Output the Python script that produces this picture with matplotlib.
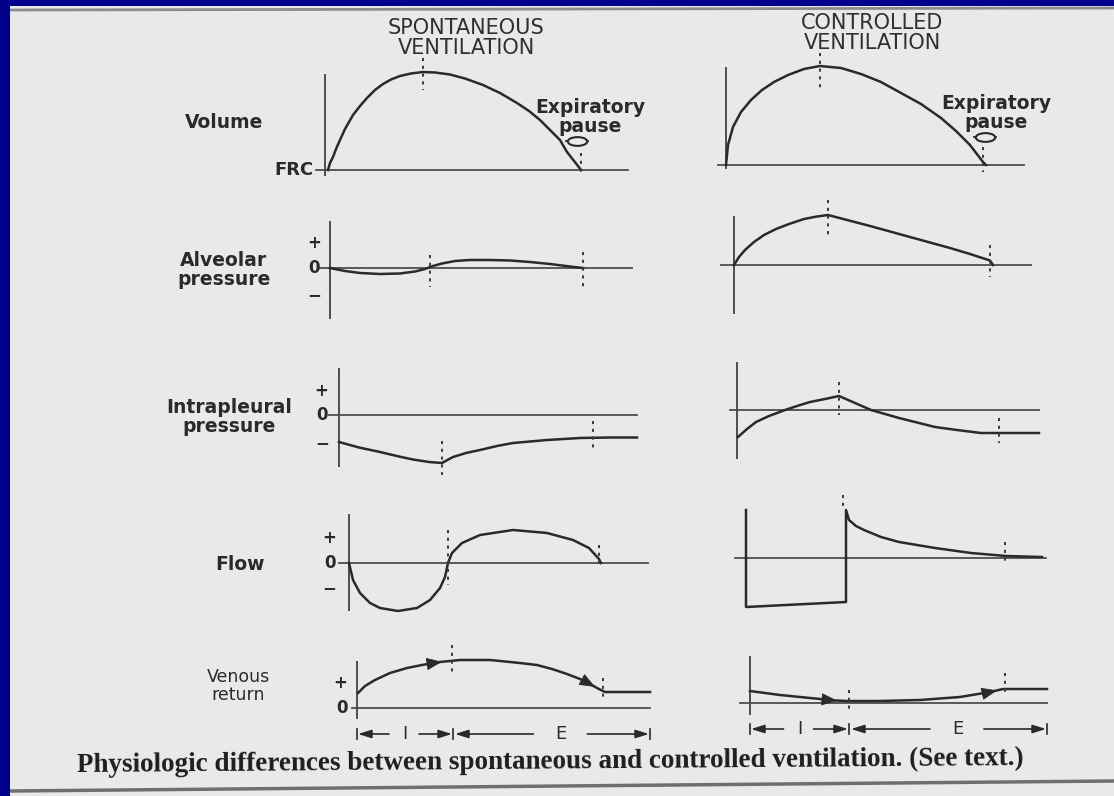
import numpy as np
import matplotlib.pyplot as plt
from matplotlib.path import Path
from matplotlib.transforms import Affine2D

W, H = 1114, 796
INK = '#2a2a2a'
RULE = '#4d4d4d'
PAGE = '#e9e9e9'

# ---- traces: time (arbitrary units from start of inspiration) and value (arbitrary units, 0 = baseline)
# spontaneous ventilation
sv_vol_t = [0.3, 0.5, 0.8, 1.1, 1.5, 2.0, 2.8, 3.5, 4.2, 5.0, 5.8, 6.6, 7.5, 8.6, 9.8, 11.0, 12.5,
            14.0, 15.8, 17.5, 19.2, 20.4, 21.5, 22.5, 23.5, 24.2, 25.3, 25.6]
sv_vol_v = [0, 0.7, 1.3, 2.1, 3.0, 4.1, 5.5, 6.4, 7.2, 8.0, 8.6, 9.05, 9.4, 9.65, 9.8, 9.75, 9.55,
            9.15, 8.5, 7.7, 6.7, 5.9, 5.0, 4.0, 3.0, 1.8, 0.4, 0]

sv_alv_t = [0, 1.5, 3.0, 5.0, 7.0, 8.5, 9.5, 10.3, 11.2, 12.5, 14.0, 16.0, 18.0, 20.0, 22.0, 24.0, 25.3]
sv_alv_v = [0, -0.3, -0.5, -0.6, -0.55, -0.35, -0.1, 0.2, 0.45, 0.7, 0.8, 0.8, 0.75, 0.6, 0.4, 0.15, 0]

sv_ipl_t = [0, 2.0, 4.1, 6.0, 7.4, 9.0, 10.3, 11.4, 12.7, 14.1, 15.8, 17.4, 20.8, 24.1, 27.0, 29.8]
sv_ipl_v = [-2.7, -3.25, -3.7, -4.15, -4.45, -4.7, -4.8, -4.2, -3.8, -3.5, -3.1, -2.8, -2.5, -2.3, -2.25, -2.25]

sv_flow_t = [0, 0.4, 1.1, 2.1, 3.1, 4.9, 6.8, 8.1, 9.1, 9.6, 9.9, 10.3, 11.3, 13.1, 16.4, 19.8, 22.4, 24.0, 25.0, 25.2]
sv_flow_v = [0, -1.7, -3.0, -4.0, -4.5, -4.8, -4.5, -3.7, -2.5, -1.4, 0, 1.0, 2.0, 2.8, 3.3, 3.0, 2.3, 1.5, 0.4, 0]

sv_ven_t = [0.1, 0.8, 1.8, 3.3, 5.0, 6.5, 8.3, 10.3, 13.3, 16.3, 18.0, 19.5, 21.0, 22.3, 23.3, 24.0, 24.8, 29.3]
sv_ven_v = [1.5, 2.2, 2.8, 3.5, 4.0, 4.3, 4.6, 4.8, 4.8, 4.5, 4.3, 3.9, 3.4, 2.9, 2.4, 2.0, 1.6, 1.6]

# controlled ventilation
cv_vol_t = [0, 0.2, 0.7, 1.5, 2.5, 3.6, 4.8, 6.2, 7.8, 9.4, 11.5, 13.5, 15.5, 17.5, 19.5, 21.5, 23.0, 24.4, 25.7, 26.0]
cv_vol_v = [0, 2.0, 3.8, 5.3, 6.5, 7.5, 8.3, 9.0, 9.6, 9.9, 9.7, 9.1, 8.3, 7.2, 6.1, 4.7, 3.4, 2.0, 0.3, 0]

cv_alv_t = [0, 0.5, 1.1, 2.0, 3.0, 4.2, 5.5, 7.0, 8.3, 9.4, 11.5, 13.6, 15.6, 17.6, 19.6, 21.6, 23.6, 25.6, 25.9]
cv_alv_v = [0, 0.8, 1.5, 2.3, 3.0, 3.6, 4.1, 4.6, 4.85, 5.0, 4.45, 3.9, 3.35, 2.8, 2.25, 1.7, 1.1, 0.45, 0]

cv_ipl_t = [0.1, 1.0, 1.9, 3.2, 4.8, 6.0, 7.3, 8.8, 10.2, 11.8, 13.4, 14.8, 16.2, 18.0, 19.8, 22.0, 24.4, 27.0, 30.2]
cv_ipl_v = [-2.7, -1.9, -1.2, -0.6, 0, 0.4, 0.8, 1.1, 1.4, 0.7, 0, -0.4, -0.8, -1.25, -1.7, -2.0, -2.3, -2.3, -2.3]

cv_flow_t = [0, 0, 10.0, 10.0, 10.3, 11.0, 11.8, 13.5, 15.3, 18.9, 22.5, 26.0, 29.6]
cv_flow_v = [4.8, -4.9, -4.4, 4.8, 3.8, 3.2, 2.8, 2.1, 1.6, 1.0, 0.5, 0.2, 0.1]

cv_ven_t = [0, 3.0, 6.0, 8.5, 9.8, 13.0, 17.0, 21.0, 24.0, 25.3, 29.7]
cv_ven_v = [1.2, 0.8, 0.5, 0.25, 0.2, 0.2, 0.3, 0.6, 1.1, 1.4, 1.4]

# end of inspiration / end of expiration markers: (time, top, bottom)
marks = {
    'sv_vol': [(9.8, 11.2, 8.0), (25.6, 1.7, -0.3)],
    'cv_vol': [(9.4, 11.2, 7.7), (25.7, 1.8, -0.7)],
    'sv_alv': [(10.0, 1.3, -1.9), (25.3, 1.6, -2.2)],
    'cv_alv': [(9.4, 6.5, 3.0), (25.6, 2.0, -1.2)],
    'sv_ipl': [(10.3, -2.6, -6.0), (25.4, -0.6, -3.4)],
    'cv_ipl': [(10.2, 2.8, -0.5), (26.2, -0.8, -3.3)],
    'sv_flow': [(9.9, 3.3, -2.2), (25.0, 1.8, -0.2)],
    'cv_flow': [(9.7, 6.3, 5.0), (25.9, 1.6, -0.5)],
    'sv_ven': [(9.5, 6.3, 3.3), (24.6, 3.0, 0.8)],
    'cv_ven': [(9.9, 1.3, -1.0), (25.5, 3.0, 1.0)],
}
pause_at = {'sv_vol': (25.2, 2.9), 'cv_vol': (25.9, 2.8)}
ven_arrows = {'sv_ven': [8.5, 23.8], 'cv_ven': [8.7, 24.7]}
phases = {'sv_ven': [0, 9.6, 29.3], 'cv_ven': [0, 9.9, 29.7]}   # I/E boundaries

# ---- layout (pixels): origin = (axis x, baseline y), axis extent, baseline extent
panels = {
    'sv_vol': dict(origin=(325, 170), axis=(9.5, -0.5), zero=(-0.9, 30.3)),
    'cv_vol': dict(origin=(726, 165), axis=(9.7, -0.3), zero=(-0.8, 29.8)),
    'sv_alv': dict(origin=(330, 268), axis=(4.6, -5.0), zero=(-1.0, 30.2)),
    'cv_alv': dict(origin=(734, 265), axis=(4.8, -4.8), zero=(-1.3, 29.7)),
    'sv_ipl': dict(origin=(339, 415), axis=(4.6, -5.1), zero=(-1.0, 29.8)),
    'cv_ipl': dict(origin=(737, 410), axis=(4.7, -4.8), zero=(-0.7, 30.2)),
    'sv_flow': dict(origin=(349, 563), axis=(4.8, -4.7), zero=(-1.0, 29.9)),
    'cv_flow': dict(origin=(746, 558), axis=None, zero=(-1.1, 30.0)),
    'sv_ven': dict(origin=(357, 708), axis=(4.6, -1.0), zero=(-0.5, 29.3)),
    'cv_ven': dict(origin=(750, 703), axis=(4.6, -1.1), zero=(-1.0, 29.7)),
}
traces = {
    'sv_vol': (sv_vol_t, sv_vol_v), 'cv_vol': (cv_vol_t, cv_vol_v),
    'sv_alv': (sv_alv_t, sv_alv_v), 'cv_alv': (cv_alv_t, cv_alv_v),
    'sv_ipl': (sv_ipl_t, sv_ipl_v), 'cv_ipl': (cv_ipl_t, cv_ipl_v),
    'sv_flow': (sv_flow_t, sv_flow_v), 'cv_flow': (cv_flow_t, cv_flow_v),
    'sv_ven': (sv_ven_t, sv_ven_v), 'cv_ven': (cv_ven_t, cv_ven_v),
}
signs = {
    'sv_alv': [('+', -1.6, 2.5), ('0', -1.6, 0), ('\u2212', -1.6, -2.7)],
    'sv_ipl': [('+', -1.8, 2.4), ('0', -1.7, 0), ('\u2212', -1.7, -2.8)],
    'sv_flow': [('+', -2.0, 2.5), ('0', -1.9, 0), ('\u2212', -2.0, -2.5)],
    'sv_ven': [('+', -1.7, 2.5), ('0', -1.5, 0)],
}

plt.rcParams['font.family'] = ['DejaVu Sans']

fig = plt.figure(figsize=(W / 100, H / 100), dpi=100)
fig.patch.set_facecolor('#00008a')

# page
page = fig.add_axes([10 / W, 0, 1 - 10 / W, 1 - 6 / H])
page.set_facecolor(PAGE)
page.set_xlim(10, W)
page.set_ylim(H, 6)
page.set_xticks([])
page.set_yticks([])
for s in page.spines.values():
    s.set_visible(False)
page.plot([10, W], [10, 8], color='#8c8c8c', lw=2)
page.plot([10, W], [791, 781], color='#6e6e6e', lw=2.5)


def panel(key):
    x0, y0 = panels[key]['origin']
    left, right, top, bottom = x0 - 60, x0 + 330, y0 - 120, y0 + 70
    ax = fig.add_axes([left / W, 1 - bottom / H, (right - left) / W, (bottom - top) / H])
    ax.set_xlim(-6, 33)
    ax.set_ylim(-7, 12)
    ax.axis('off')
    return ax


def arrow(ax, x_to, x_from, y):
    ax.annotate('', xy=(x_to, y), xytext=(x_from, y),
                arrowprops=dict(arrowstyle='-|>,head_length=0.8,head_width=0.25',
                                color=INK, lw=1.2, shrinkA=0, shrinkB=0))


lens = Path.unit_circle().transformed(Affine2D().scale(1.0, 0.45))

for key, spec in panels.items():
    ax = panel(key)
    t, v = traces[key]
    if spec['axis'] is not None:
        ax.plot([0, 0], spec['axis'], color=RULE, lw=1.4)
    ax.plot(spec['zero'], [0, 0], color=RULE, lw=1.3)
    ax.plot(t, v, color=INK, lw=1.8, solid_joinstyle='round')
    for tm, a, b in marks[key]:
        ax.plot([tm, tm], [a, b], color='#3a3a3a', lw=1.4, ls=(0, (1.6, 2.4)))
    for s, x, y in signs.get(key, []):
        ax.text(x, y, s, ha='center', va='center', fontsize=12, fontweight='bold', color=INK)
    if key in ven_arrows:
        for ta in ven_arrows[key]:
            ax.annotate('', xy=(ta, np.interp(ta, t, v)), xytext=(ta - 0.7, np.interp(ta - 0.7, t, v)),
                        arrowprops=dict(arrowstyle='-|>,head_length=1.0,head_width=0.4',
                                        color=INK, lw=0.6, shrinkA=0, shrinkB=0))
        # inspiration / expiration spans
        b0, b1, b2 = phases[key]
        row = -2.6
        for b in (b0, b1, b2):
            ax.plot([b, b], [row - 0.5, row + 0.5], color=INK, lw=1.2)
        mid_i = (b0 + b1) / 2
        arrow(ax, b0 + 0.1, mid_i - 1.6, row)
        arrow(ax, b1 - 0.1, mid_i + 1.4, row)
        ax.text(mid_i, row, 'I', ha='center', va='center', fontsize=13, color=INK)
        mid_e = b1 + 0.55 * (b2 - b1)
        arrow(ax, b1 + 0.2, mid_e - 2.8, row)
        arrow(ax, b2 - 0.1, mid_e + 2.6, row)
        ax.text(mid_e, row, 'E', ha='center', va='center', fontsize=13, color=INK)
    if key == 'sv_vol':
        ax.text(-1.1, 0, 'FRC', ha='right', va='center', fontsize=13, fontweight='bold', color=INK)
    if key in pause_at:
        tp, vp = pause_at[key]
        ax.plot([tp - 1.1, tp + 1.1], [vp, vp], color=INK, lw=1.3)
        ax.plot(tp, vp, marker=lens, ms=14, mfc=PAGE, mec=INK, mew=1.5)


# titles and row labels
def label(x, y, s, **kw):
    style = dict(ha='center', va='center', color=INK)
    style.update(kw)
    fig.text(x / W, 1 - y / H, s, **style)


label(466, 38, 'SPONTANEOUS\nVENTILATION', fontsize=15, color='#303030', linespacing=1.05)
label(872, 33, 'CONTROLLED\nVENTILATION', fontsize=15, color='#303030', linespacing=1.05)

label(590, 117, 'Expiratory\npause', fontsize=13.5, fontweight='bold', linespacing=1.05)
label(996, 113, 'Expiratory\npause', fontsize=13.5, fontweight='bold', linespacing=1.05)

label(224, 122, 'Volume', fontsize=13.5, fontweight='bold')
label(224, 270, 'Alveolar\npressure', fontsize=13.5, fontweight='bold', linespacing=1.0)
label(229, 417, 'Intrapleural\npressure', fontsize=13.5, fontweight='bold', linespacing=1.0)
label(240, 564, 'Flow', fontsize=13.5, fontweight='bold')
label(238, 686, 'Venous\nreturn', fontsize=12.5, linespacing=1.0)

label(550, 762, 'Physiologic differences between spontaneous and controlled ventilation. (See text.)',
      fontsize=19.5, fontweight='bold', family='Liberation Serif', rotation=0.42, color='#1e1e1e')

fig.savefig('out.png', dpi=100, facecolor=fig.get_facecolor())
